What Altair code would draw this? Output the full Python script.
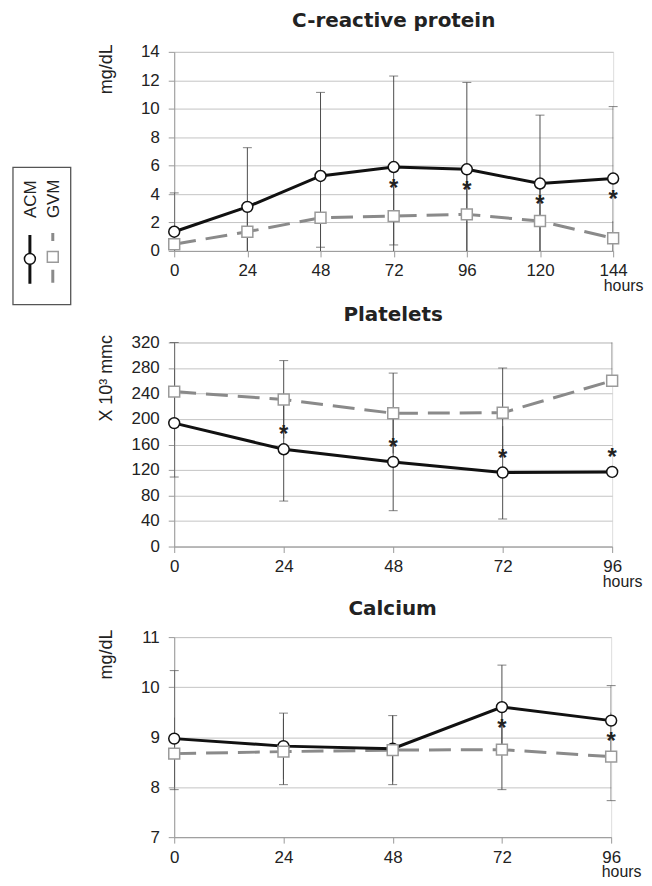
import altair as alt
import pandas as pd

# ---------------- data ----------------
series_names = ["ACM", "GVM"]

crp_hours = [0, 24, 48, 72, 96, 120, 144]
crp_acm = [1.35, 3.1, 5.27, 5.9, 5.74, 4.74, 5.09]
crp_acm_lo = [-1.4, -1.1, -0.6, -0.5, -0.4, -0.1, -0.1]
crp_acm_hi = [4.08, 7.26, 11.15, 12.3, 11.85, 9.55, 10.15]
crp_gvm = [0.47, 1.35, 2.33, 2.45, 2.57, 2.1, 0.89]
crp_gvm_lo = [-0.5, -0.3, 0.26, 0.42, -0.3, -0.4, -0.3]
crp_gvm_hi = [1.4, 3.0, 4.4, 4.5, 5.4, 4.6, 2.1]
crp_sig = [False, False, False, True, True, True, True]

plt_hours = [0, 24, 48, 72, 96]
plt_acm = [193.6, 152.5, 132.7, 116.0, 117.0]
plt_acm_lo = [109.0, 71.3, 56.2, 43.2, 117.0]
plt_acm_hi = [278.0, 233.7, 209.0, 188.8, 117.0]
plt_gvm = [243.0, 230.5, 209.0, 209.8, 260.0]
plt_gvm_lo = [166.0, 169.4, 146.0, 139.6, 260.0]
plt_gvm_hi = [320.0, 291.6, 272.0, 280.0, 335.0]
plt_sig = [False, True, True, True, True]

ca_hours = [0, 24, 48, 72, 96]
ca_acm = [8.97, 8.82, 8.77, 9.6, 9.33]
ca_acm_lo = [8.0, 8.16, 8.11, 8.76, 8.63]
ca_acm_hi = [10.33, 9.48, 9.43, 10.44, 10.03]
ca_gvm = [8.67, 8.71, 8.74, 8.75, 8.61]
ca_gvm_lo = [7.95, 8.05, 8.05, 7.95, 7.73]
ca_gvm_hi = [9.39, 9.37, 9.43, 9.55, 9.49]
ca_sig = [False, False, False, True, True]

FONT = "Liberation Sans"
TXT = "#222222"


def make_df(hours, acm, acm_lo, acm_hi, gvm, gvm_lo, gvm_hi, sig, acm_cap_hi):
    rows = []
    for i, h in enumerate(hours):
        rows.append(dict(hour=h, series="ACM", mean=acm[i], lo=acm_lo[i], hi=acm_hi[i],
                         cap=acm_hi[i] if acm_cap_hi else acm_lo[i], sig=sig[i]))
        rows.append(dict(hour=h, series="GVM", mean=gvm[i], lo=gvm_lo[i], hi=gvm_hi[i],
                         cap=gvm_lo[i] if acm_cap_hi else gvm_hi[i], sig=False))
    return pd.DataFrame(rows)


def panel(df, title, ytitle, ydom, ystep, xmax, width, height, star_dy, title_offset,
          extra_bottom=0):
    yticks = list(range(int(ydom[0]), int(ydom[1]) + 1, ystep))
    xticks = list(range(0, xmax + 1, 24))
    xscale = alt.Scale(domain=[0, xmax], nice=False, zero=False)
    yscale = alt.Scale(domain=ydom, nice=False, zero=False)
    xaxis = alt.Axis(values=xticks, grid=False, title="hours",
                     titleX=width - 10, titleY=40, titleAlign="left",
                     titleBaseline="alphabetic", titleAngle=0,
                     titleFont=FONT, titleFontSize=16, titleFontWeight="normal",
                     titleColor=TXT, labelFont=FONT, labelFontSize=17,
                     labelColor=TXT, labelPadding=6, tickSize=6,
                     tickColor="#999999", domainColor="#999999",
                     labelFlush=False, labelOverlap=False, format="d")
    yaxis = alt.Axis(values=yticks, grid=True, gridColor="#c4c4c4",
                     title=ytitle, titleAngle=270, titleAlign="right",
                     titleX=-68, titleY=-8, titleBaseline="middle",
                     titleFont=FONT, titleFontSize=18, titleFontWeight="normal",
                     titleColor=TXT, labelFont=FONT, labelFontSize=17,
                     labelColor=TXT, labelPadding=9, tickSize=6,
                     tickColor="#999999", domainColor="#999999",
                     labelOverlap=False, labelFlush=False, format="d")
    xs = alt.X("hour:Q", scale=xscale, axis=xaxis)
    ys = alt.Y("mean:Q", scale=yscale, axis=yaxis)
    base = alt.Chart(df)
    err = base.mark_rule(clip=True, color="#4d4d4d", strokeWidth=1).encode(
        x=xs, y=alt.Y("lo:Q", scale=yscale, axis=yaxis), y2="hi:Q")
    caps = base.transform_filter(
        f"datum.cap >= {ydom[0]} && datum.cap <= {ydom[1]}"
    ).mark_tick(orient="horizontal", size=9, thickness=1, color="#4d4d4d").encode(
        x=xs, y=alt.Y("cap:Q", scale=yscale, axis=yaxis))
    gvm_line = base.transform_filter("datum.series == 'GVM'").mark_line(
        color="#8a8a8a", strokeWidth=3, strokeDash=[22, 10]).encode(x=xs, y=ys)
    acm_line = base.transform_filter("datum.series == 'ACM'").mark_line(
        color="#111111", strokeWidth=3).encode(x=xs, y=ys)
    pts = base.mark_point(filled=False, fill="white", fillOpacity=1, strokeWidth=1.5,
                          opacity=1, size=120).encode(
        x=xs, y=ys,
        shape=alt.Shape("series:N", scale=alt.Scale(domain=series_names,
                                                    range=["circle", "square"]),
                        legend=None),
        stroke=alt.Stroke("series:N", scale=alt.Scale(domain=series_names,
                                                      range=["#111111", "#9a9a9a"]),
                          legend=None))
    stars = base.transform_filter("datum.sig").mark_text(
        text="*", font=FONT, fontSize=24, fontWeight="bold", color=TXT,
        baseline="middle", dy=star_dy).encode(x=xs, y=ys)
    layers = [err, caps, gvm_line, acm_line, pts, stars]
    if extra_bottom:
        spacer = alt.Chart(df.head(1)).mark_rule(opacity=0, strokeWidth=0).encode(
            x=alt.value(0), y=alt.value(height), y2=alt.value(height + extra_bottom))
        layers.append(spacer)
    return alt.layer(*layers).properties(
        width=width, height=height,
        title=alt.TitleParams(title, font="DejaVu Sans", fontSize=20, fontWeight="bold",
                              color=TXT, anchor="middle", offset=title_offset))


crp_df = make_df(crp_hours, crp_acm, crp_acm_lo, crp_acm_hi, crp_gvm, crp_gvm_lo,
                 crp_gvm_hi, crp_sig, True)
plt_df = make_df(plt_hours, plt_acm, plt_acm_lo, plt_acm_hi, plt_gvm, plt_gvm_lo,
                 plt_gvm_hi, plt_sig, False)
ca_df = make_df(ca_hours, ca_acm, ca_acm_lo, ca_acm_hi, ca_gvm, ca_gvm_lo,
                ca_gvm_hi, ca_sig, True)

crp = panel(crp_df, "C-reactive protein", "mg/dL", [0, 14], 2, 144, 441, 200, 22, 12)
plat = panel(plt_df, "Platelets", "X 10\u00b3 mmc", [0, 320], 40, 96, 440, 205, -14, 9,
             extra_bottom=54)
calc = panel(ca_df, "Calcium", "mg/dL", [7, 11], 1, 96, 439, 201, 22, 9)

# ---------------- rotated legend box (drawn beside the first panel) ----------------
one = pd.DataFrame({"k": [0]})
box = alt.Chart(one).mark_rect(fillOpacity=0, stroke="#555555", strokeWidth=1.3).encode(
    x=alt.value(-162), x2=alt.value(-104), y=alt.value(116), y2=alt.value(254))
acm_leg_line = alt.Chart(one).mark_rule(color="#111111", strokeWidth=3).encode(
    x=alt.value(-145), y=alt.value(184), y2=alt.value(233))
gvm_leg_line = alt.Chart(one).mark_rule(color="#8a8a8a", strokeWidth=3,
                                        strokeDash=[8, 29, 13, 100]).encode(
    x=alt.value(-122), y=alt.value(182), y2=alt.value(232))
acm_leg_pt = alt.Chart(one).mark_point(shape="circle", filled=False, fill="white",
                                       fillOpacity=1, stroke="#111111",
                                       strokeWidth=1.5, size=120).encode(
    x=alt.value(-145), y=alt.value(208))
gvm_leg_pt = alt.Chart(one).mark_point(shape="square", filled=False, fill="white",
                                       fillOpacity=1, stroke="#9a9a9a",
                                       strokeWidth=1.5, size=120).encode(
    x=alt.value(-122), y=alt.value(206))
acm_leg_txt = alt.Chart(one).mark_text(angle=270, align="left", baseline="middle",
                                       font=FONT, fontSize=17, color=TXT,
                                       text=series_names[0]).encode(
    x=alt.value(-144), y=alt.value(167))
gvm_leg_txt = alt.Chart(one).mark_text(angle=270, align="left", baseline="middle",
                                       font=FONT, fontSize=17, color=TXT,
                                       text=series_names[1]).encode(
    x=alt.value(-121), y=alt.value(167))

crp_full = alt.layer(crp, box, acm_leg_line, gvm_leg_line, acm_leg_pt, gvm_leg_pt,
                     acm_leg_txt, gvm_leg_txt)

chart = alt.vconcat(crp_full, plat, calc, spacing=-3).properties(
    padding={"left": 3, "top": 0, "right": 0, "bottom": 0}
).configure_view(stroke=None).configure(background="white")

chart.save("out.html", embed_options={"renderer": "svg", "actions": False})
